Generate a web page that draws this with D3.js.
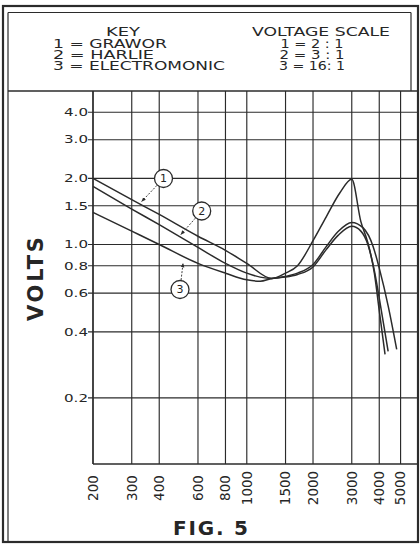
<!DOCTYPE html>
<html>
<head>
<meta charset="utf-8">
<script src="https://cdn.jsdelivr.net/npm/d3@7/dist/d3.min.js"></script>
<style>
  html, body { margin: 0; padding: 0; background: #fff; }
  svg { display: block; }
  text { font-family: "DejaVu Sans", sans-serif; fill: #262626; }
</style>
</head>
<body>
<svg id="chart" width="420" height="545"></svg>
<script>
// Frequency response of three phonograph pickups (log-log)
const freqTicks = [200, 300, 400, 600, 800, 1000, 1500, 2000, 3000, 4000, 5000];
const freqTickLabels = ["200", "300", "400", "600", "800", "1000", "1500", "2000", "3000", "4000", "5000"];
const voltTicks = [0.2, 0.4, 0.6, 0.8, 1.0, 1.5, 2.0, 3.0, 4.0];
const voltTickLabels = ["0.2", "0.4", "0.6", "0.8", "1.0", "1.5", "2.0", "3.0", "4.0"];

const keyNumbers = ["1", "2", "3"];
const keyNames = ["GRAWOR", "HARLIE", "ELECTROMONIC"];
const voltageScales = ["2 : 1", "3 : 1", "16: 1"];

// 1 = Grawor
const graworFreq  = [200, 300, 400, 600, 800, 1000, 1300, 1500, 1700, 2000, 2300, 2650, 3000, 3300, 3550, 3800, 4000, 4250];
const graworVolts = [2.0, 1.6, 1.37, 1.09, 0.94, 0.82, 0.70, 0.74, 0.80, 1.04, 1.34, 1.72, 1.98, 1.27, 1.02, 0.74, 0.50, 0.316];
// 2 = Harlie
const harlieFreq  = [200, 300, 400, 600, 800, 1000, 1150, 1300, 1500, 1700, 2000, 2300, 2600, 3000, 3380, 3750, 4000, 4400, 4800];
const harlieVolts = [1.84, 1.45, 1.23, 0.97, 0.82, 0.74, 0.71, 0.70, 0.715, 0.74, 0.81, 0.98, 1.145, 1.26, 1.19, 0.98, 0.78, 0.52, 0.333];
// 3 = Electromonic
const electroFreq  = [200, 300, 400, 600, 800, 1000, 1150, 1300, 1500, 1700, 2000, 2300, 2600, 3000, 3300, 3550, 3800, 4000, 4390];
const electroVolts = [1.4, 1.15, 1.0, 0.82, 0.74, 0.69, 0.68, 0.70, 0.71, 0.73, 0.79, 0.95, 1.10, 1.21, 1.15, 1.0, 0.76, 0.57, 0.326];

const series = [
  { freq: graworFreq, volts: graworVolts },
  { freq: harlieFreq, volts: harlieVolts },
  { freq: electroFreq, volts: electroVolts }
];

const svg = d3.select("#chart");
const ink = "#2b2b2b";

const plot = { left: 93, right: 418, top: 91, bottom: 464 };
const x = d3.scaleLog().domain([200, 6000]).range([plot.left, plot.right]);
const y = d3.scaleLog().domain([0.1, 5]).range([plot.bottom, plot.top]);

// Page frame: heavy outer border plus thin inner rule
svg.append("rect").attr("x", 3).attr("y", 6).attr("width", 415).attr("height", 536)
  .attr("fill", "none").attr("stroke", ink).attr("stroke-width", 2.2);
svg.append("line").attr("x1", 8).attr("x2", 8).attr("y1", 12.5).attr("y2", 541)
  .attr("stroke", ink).attr("stroke-width", 1.2);
svg.append("line").attr("x1", 8).attr("x2", 411).attr("y1", 12.5).attr("y2", 12.5)
  .attr("stroke", ink).attr("stroke-width", 1.2);
svg.append("line").attr("x1", 411).attr("x2", 411).attr("y1", 12.5).attr("y2", plot.top)
  .attr("stroke", ink).attr("stroke-width", 1.2);
svg.append("line").attr("x1", 8).attr("x2", plot.right).attr("y1", plot.top).attr("y2", plot.top)
  .attr("stroke", ink).attr("stroke-width", 1.3);

// Key block (wide drafting lettering)
const key = svg.append("g");
key.append("text").attr("x", 123).attr("y", 35.5).attr("text-anchor", "middle")
  .attr("font-size", 11.5).attr("textLength", 34).attr("lengthAdjust", "spacingAndGlyphs").text("KEY");
key.append("text").attr("x", 321).attr("y", 35.5).attr("text-anchor", "middle")
  .attr("font-size", 11.5).attr("textLength", 138).attr("lengthAdjust", "spacingAndGlyphs").text("VOLTAGE SCALE");
const keyWidths = [114, 101, 172];
const scaleWidths = [63, 65, 66];
keyNames.forEach((name, i) => {
  const base = 48 + i * 11;
  key.append("text").attr("x", 53).attr("y", base).attr("font-size", 11.5)
    .attr("textLength", keyWidths[i]).attr("lengthAdjust", "spacingAndGlyphs")
    .text(keyNumbers[i] + " = " + name);
  key.append("text").attr("x", 312).attr("y", base).attr("text-anchor", "middle").attr("font-size", 11.5)
    .attr("textLength", scaleWidths[i]).attr("lengthAdjust", "spacingAndGlyphs")
    .text(keyNumbers[i] + " = " + voltageScales[i]);
});

// Grid
const grid = svg.append("g").attr("stroke", ink).attr("stroke-width", 1.15);
grid.selectAll("line.v").data(freqTicks).join("line").attr("class", "v")
  .attr("x1", d => x(d)).attr("x2", d => x(d)).attr("y1", plot.top).attr("y2", plot.bottom);
grid.selectAll("line.h").data(voltTicks).join("line").attr("class", "h")
  .attr("x1", plot.left - 5).attr("x2", plot.right).attr("y1", d => y(d)).attr("y2", d => y(d));
grid.append("line").attr("x1", plot.left).attr("x2", plot.right)
  .attr("y1", plot.bottom).attr("y2", plot.bottom).attr("stroke-width", 1.4);
grid.append("line").attr("x1", plot.left).attr("x2", plot.left)
  .attr("y1", plot.top).attr("y2", plot.bottom).attr("stroke-width", 1.4);

// Axis labels
svg.append("g").selectAll("text").data(voltTicks).join("text")
  .attr("x", 88).attr("y", d => y(d)).attr("dy", "0.36em").attr("text-anchor", "end")
  .attr("font-size", 10.5).attr("textLength", 24).attr("lengthAdjust", "spacingAndGlyphs")
  .text((d, i) => voltTickLabels[i]);

svg.append("g").selectAll("text").data(freqTicks).join("text")
  .attr("transform", d => `translate(${x(d)},488) rotate(-90)`)
  .attr("dy", "0.36em").attr("text-anchor", "middle").attr("font-size", 13.5)
  .text((d, i) => freqTickLabels[i]);

svg.append("text").attr("transform", "translate(35,279) rotate(-90)")
  .attr("dy", "0.36em").attr("text-anchor", "middle").attr("font-size", 21).attr("font-weight", "bold")
  .attr("textLength", 84).attr("lengthAdjust", "spacing").text("VOLTS");

svg.append("text").attr("x", 210.5).attr("y", 535).attr("text-anchor", "middle")
  .attr("font-size", 20).attr("font-weight", "bold")
  .attr("textLength", 75).attr("lengthAdjust", "spacing").text("FIG. 5");

// Response curves
const line = d3.line().x(d => x(d[0])).y(d => y(d[1])).curve(d3.curveMonotoneX);
svg.append("g").selectAll("path").data(series).join("path")
  .attr("d", s => line(s.freq.map((f, i) => [f, s.volts[i]])))
  .attr("fill", "none").attr("stroke", ink).attr("stroke-width", 1.5);

// Numbered callouts with leader arrows
const defs = svg.append("defs");
defs.append("marker").attr("id", "tip").attr("viewBox", "0 0 10 10").attr("refX", 9).attr("refY", 5)
  .attr("markerWidth", 5).attr("markerHeight", 5).attr("orient", "auto-start-reverse")
  .append("path").attr("d", "M0,1 L10,5 L0,9 Z").attr("fill", ink);

const callouts = [
  { n: "1", cx: 163.5, cy: 178.5, f: 333, v: 1.57 },
  { n: "2", cx: 201.7, cy: 211, f: 502, v: 1.11 },
  { n: "3", cx: 180, cy: 289.5, f: 513, v: 0.82 }
];
const co = svg.append("g");
callouts.forEach(c => {
  const tx = x(c.f), ty = y(c.v);
  const dx = tx - c.cx, dy = ty - c.cy, len = Math.hypot(dx, dy);
  co.append("line")
    .attr("x1", c.cx + dx / len * 9.5).attr("y1", c.cy + dy / len * 9.5)
    .attr("x2", tx).attr("y2", ty)
    .attr("stroke", ink).attr("stroke-width", 0.9).attr("stroke-dasharray", "2,1.5")
    .attr("marker-end", "url(#tip)");
  co.append("circle").attr("cx", c.cx).attr("cy", c.cy).attr("r", 9)
    .attr("fill", "#fff").attr("stroke", ink).attr("stroke-width", 1.3);
  co.append("text").attr("x", c.cx).attr("y", c.cy).attr("dy", "0.36em").attr("text-anchor", "middle")
    .attr("font-size", 11).text(c.n);
});
</script>
</body>
</html>
